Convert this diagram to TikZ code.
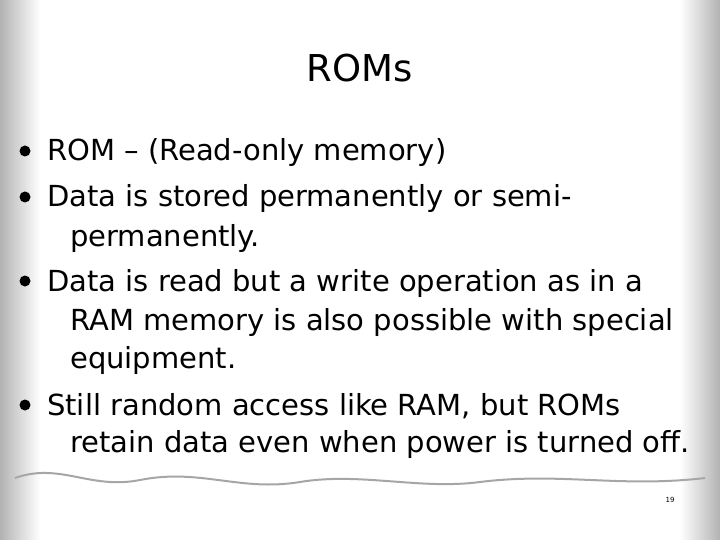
\documentclass[tikz,border=0pt]{standalone}
\usepackage{fontspec}
\setmainfont{DejaVu Sans}
\begin{document}
\begin{tikzpicture}[x=1pt,y=-1pt,
  line/.style={anchor=base west, inner sep=0pt, font=\fontsize{29}{33}\selectfont},
  dot/.style={circle, fill=black, inner sep=0pt, minimum size=11pt}
]
\useasboundingbox (0,0) rectangle (720,540);
% background
\fill[white] (0,0) rectangle (720,540);
\shade[left color=black!30, right color=white] (0,0) rectangle (40,540);
\shade[left color=white, right color=black!30] (680,0) rectangle (720,540);
\draw[black!35, line width=2pt] (15,478) .. controls (60,462) and (90,490) .. (140,480)
  .. controls (200,468) and (240,492) .. (300,482) .. controls (360,472) and (420,490) .. (480,482)
  .. controls (560,472) and (620,488) .. (705,478);

\node[anchor=base, font=\fontsize{37}{41}\selectfont] (title) at (360,82) {ROMs};

\node[line] (l1) at (47,161) {ROM -- (Read-only memory)};
\node[line] (l2) at (47,207) {Data is stored permanently or semi-};
\node[line] (l3) at (70,246) {permanently.};
\node[line] (l4) at (47,291) {Data is read but a write operation as in a};
\node[line] (l5) at (70,330) {RAM memory is also possible with special};
\node[line] (l6) at (70,368) {equipment.};
\node[line] (l7) at (47,415) {Still random access like RAM, but ROMs};
\node[line] (l8) at (70,452) {retain data even when power is turned off.};

\foreach \n/\y in {d1/151, d2/197, d3/281, d4/405}
  \node[dot] (\n) at (25,\y) {};

\node[font=\fontsize{7}{8}\selectfont] (page) at (670,500) {19};
\end{tikzpicture}
\end{document}
